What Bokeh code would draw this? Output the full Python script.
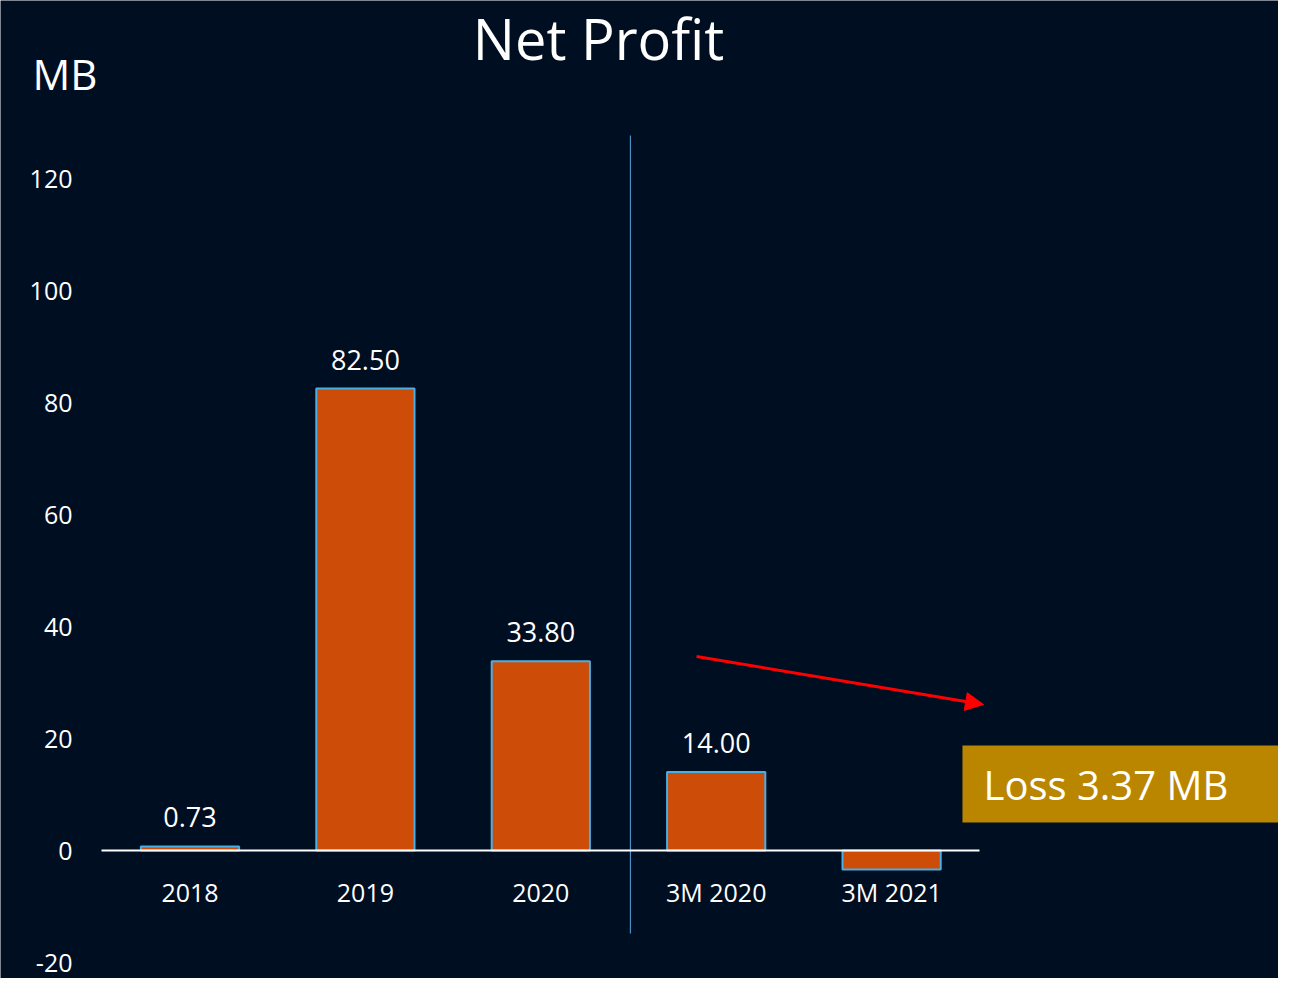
from bokeh.plotting import figure
from bokeh.models import FixedTicker, Label, Arrow, NormalHead, ColumnDataSource, BoxAnnotation, Range1d
from bokeh.core.properties import value
from bokeh.embed import file_html
from bokeh.resources import INLINE

categories = ["2018", "2019", "2020", "3M 2020", "3M 2021"]
net_profit = [0.73, 82.50, 33.80, 14.00, -3.37]
y_ticks = [-20, 0, 20, 40, 60, 80, 100, 120]
title_text = "Net Profit"
unit_text = "MB"
loss_text = "Loss 3.37 MB"

FONT = "Open Sans"
BG = "#000E21"

xpos = list(range(len(categories)))

p = figure(x_range=Range1d(-1.0804, 6.2058), y_range=Range1d(-22.857, 151.79),
           width=1278, height=978, output_backend="svg", toolbar_location=None,
           min_border=0, min_border_left=0, min_border_right=0,
           min_border_top=0, min_border_bottom=0)
p.background_fill_color = BG
p.border_fill_color = BG
p.outline_line_color = None
p.grid.visible = False

# y axis (inside frame)
p.yaxis.fixed_location = -0.5046
p.yaxis.ticker = FixedTicker(ticks=y_ticks)
p.yaxis.major_label_overrides = {t: str(t) for t in y_ticks}
p.yaxis.axis_line_color = None
p.yaxis.major_tick_line_color = None
p.yaxis.major_tick_in = 0
p.yaxis.major_tick_out = 0
p.yaxis.minor_tick_line_color = None
p.yaxis.major_label_text_color = "white"
p.yaxis.major_label_text_font = FONT
p.yaxis.major_label_text_font_size = "25px"
p.yaxis.major_label_standoff = 29

# x axis at zero
p.xaxis.fixed_location = 0
p.xaxis.bounds = (-0.5046, 4.501)
p.xaxis.ticker = FixedTicker(ticks=xpos)
p.xaxis.major_label_overrides = {i: c for i, c in zip(xpos, categories)}
p.xaxis.axis_line_color = "white"
p.xaxis.axis_line_width = 2
p.xaxis.major_tick_line_color = None
p.xaxis.major_tick_in = 0
p.xaxis.major_tick_out = 0
p.xaxis.minor_tick_line_color = None
p.xaxis.major_label_text_color = "white"
p.xaxis.major_label_text_font = FONT
p.xaxis.major_label_text_font_size = "25px"
p.xaxis.major_label_standoff = 24

src = ColumnDataSource(dict(x=xpos, v=net_profit))
p.vbar(x="x", top="v", bottom=0, width=0.56, source=src,
       fill_color="#CD4C07", line_color="#4AAEE6", line_width=2)

pos_x = [i for i, v in zip(xpos, net_profit) if v > 0]
pos_vals = [v for v in net_profit if v > 0]
pos_txt = ["{:.2f}".format(v) for v in pos_vals]
p.text(x=pos_x, y=pos_vals, text=pos_txt, text_color="white",
       text_font=value(FONT), text_font_size="27px", text_align="center",
       text_baseline="bottom", y_offset=-19)

# divider between annual and quarterly
p.segment(x0=[2.511], y0=[-14.8], x1=[2.511], y1=[127.68], line_color="#4A8FC6", line_width=1.2)

p.add_layout(Label(x=2.329, y=145.18, text=title_text, text_color="white", text_font=FONT,
                   text_font_size="56px", text_align="center", text_baseline="middle"))
p.add_layout(Label(x=-0.898, y=138.75, text=unit_text, text_color="white", text_font=FONT,
                   text_font_size="42px", text_align="left", text_baseline="middle"))

p.add_layout(Arrow(x_start=2.888, y_start=34.64, x_end=4.524, y_end=26.07,
                   line_color="#FF0000", line_width=3,
                   end=NormalHead(size=18, fill_color="#FF0000", line_color="#FF0000")))

p.add_layout(BoxAnnotation(left=4.404, right=6.3, top=18.75, bottom=5.0,
                           fill_color="#BA8600", fill_alpha=1.0, line_color=None))
p.add_layout(Label(x=4.524, y=11.8, text=loss_text, text_color="white", text_font=FONT,
                   text_font_size="40px", text_align="left", text_baseline="middle"))

open("out.html", "w").write(file_html(p, INLINE))
